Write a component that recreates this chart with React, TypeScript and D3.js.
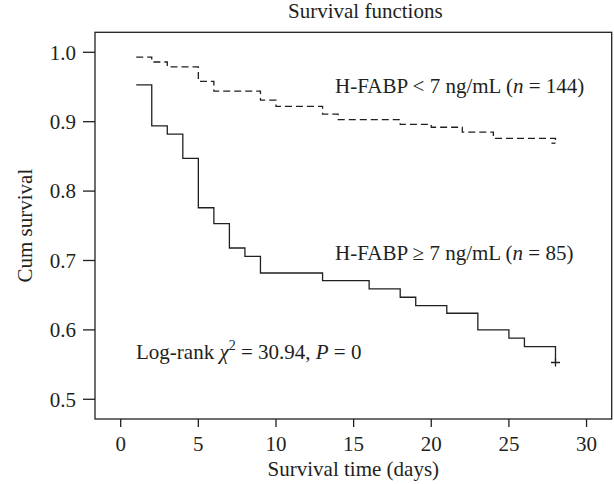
import React from "react";
import * as d3 from "d3";

// Kaplan-Meier steps
const lowDays = [1, 2, 3, 5, 6, 9, 10, 13, 14, 18, 20, 22, 24, 28];
const lowSurv = [0.993, 0.986, 0.979, 0.958, 0.944, 0.931, 0.922, 0.911, 0.903, 0.896, 0.892, 0.885, 0.876, 0.869];

const highDays = [1, 2, 3, 4, 5, 6, 7, 8, 9, 13, 16, 18, 19, 21, 23, 25, 26, 28];
const highSurv = [0.953, 0.894, 0.882, 0.847, 0.776, 0.753, 0.718, 0.706, 0.682, 0.671, 0.659, 0.647, 0.635, 0.624, 0.6, 0.588, 0.576, 0.553];

const xTicks = [0, 5, 10, 15, 20, 25, 30];
const yTicks = [0.5, 0.6, 0.7, 0.8, 0.9, 1.0];

const W = 614;
const H = 484;
const ink = "#231f20";
const font = "'Liberation Serif', 'Times New Roman', serif";
const fs = 21;

const x = d3.scaleLinear().domain([-1.655, 31.62]).range([95, 611.7]);
const y = d3.scaleLinear().domain([0.4716, 1.0288]).range([419, 32.3]);

const stepPath = (days: number[], surv: number[]) => {
  let p = `M${x(days[0])},${y(surv[0])}`;
  for (let i = 1; i < days.length; i++) {
    p += `H${x(days[i])}V${y(surv[i])}`;
  }
  return p;
};

export default function App() {
  const lowEnd = [x(lowDays[lowDays.length - 1]), y(lowSurv[lowSurv.length - 1])];
  const highEnd = [x(highDays[highDays.length - 1]), y(highSurv[highSurv.length - 1])];
  const [x0, x1] = x.range();
  const [yb, yt] = y.range();

  return (
    <svg
      width={W}
      height={H}
      style={{ position: "absolute", left: 0, top: 0 }}
      fontFamily={font}
      fontSize={fs}
      fill={ink}
    >
      <rect x={0} y={0} width={W} height={H} fill="#fff" />

      {/* title */}
      <text x={(x0 + x1) / 2 + 12} y={18} textAnchor="middle">
        Survival functions
      </text>

      {/* frame */}
      <rect x={x0} y={yt} width={x1 - x0} height={yb - yt} fill="none" stroke={ink} strokeWidth={1.3} />

      {/* x axis */}
      {xTicks.map((t) => (
        <g key={t}>
          <line x1={x(t)} x2={x(t)} y1={yb} y2={yb + 8} stroke={ink} strokeWidth={1.3} />
          <text x={x(t)} y={451} textAnchor="middle">
            {t}
          </text>
        </g>
      ))}
      <text x={(x0 + x1) / 2} y={476} textAnchor="middle">
        Survival time (days)
      </text>

      {/* y axis */}
      {yTicks.map((t) => (
        <g key={t}>
          <line x1={x0 - 12} x2={x0} y1={y(t)} y2={y(t)} stroke={ink} strokeWidth={1.3} />
          <text x={76} y={y(t)} dy="0.35em" textAnchor="end">
            {t.toFixed(1)}
          </text>
        </g>
      ))}
      <text transform={`translate(32,${(yt + yb) / 2}) rotate(-90)`} textAnchor="middle">
        Cum survival
      </text>

      {/* curves */}
      <path d={stepPath(lowDays, lowSurv)} fill="none" stroke={ink} strokeWidth={1.3} strokeDasharray="7,4" />
      <path d={`M${lowEnd[0] - 4},${lowEnd[1]}H${lowEnd[0]}`} fill="none" stroke={ink} strokeWidth={1.3} />
      <path d={stepPath(highDays, highSurv)} fill="none" stroke={ink} strokeWidth={1.3} />
      <path
        d={`M${highEnd[0] - 4.5},${highEnd[1]}H${highEnd[0] + 4.5}M${highEnd[0]},${highEnd[1] - 4}V${highEnd[1] + 4}`}
        fill="none"
        stroke={ink}
        strokeWidth={1.3}
      />

      {/* annotations */}
      <text x={335} y={93}>
        H-FABP &lt; 7 ng/mL (<tspan fontStyle="italic">n</tspan> = 144)
      </text>
      <text x={335} y={260}>
        H-FABP ≥ 7 ng/mL (<tspan fontStyle="italic">n</tspan> = 85)
      </text>
      <text x={136} y={359}>
        Log-rank <tspan fontStyle="italic">χ</tspan>
        <tspan dy={-9} fontSize={14}>2</tspan>
        <tspan dy={9}> = 30.94, </tspan>
        <tspan fontStyle="italic">P</tspan> = 0
      </text>
    </svg>
  );
}
